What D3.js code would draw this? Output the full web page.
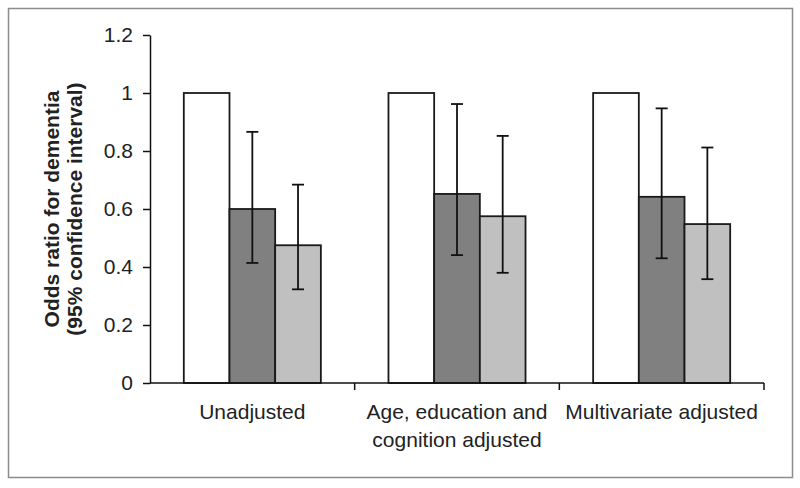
<!DOCTYPE html>
<html>
<head>
<meta charset="utf-8">
<script src="https://cdn.jsdelivr.net/npm/d3@7"></script>
<style>
  body { margin: 0; background: #fff; }
  svg { display: block; font-family: "Liberation Sans", Arial, sans-serif; }
</style>
</head>
<body>
<div class="canvas"></div>
<script>
// categories (x axis), each label may wrap on two lines
const categories = ['Unadjusted', 'Age, education and cognition adjusted', 'Multivariate adjusted'];
const categoryLines = [['Unadjusted'], ['Age, education and', 'cognition adjusted'], ['Multivariate adjusted']];
const series = ['reference', 'group2', 'group3'];

// odds ratios per category, one array per series
const reference = [1, 1, 1];
const group2 = [0.60, 0.652, 0.642];
const group3 = [0.475, 0.575, 0.548];

// 95% confidence limits (reference bar has none)
const group2Low = [0.414, 0.441, 0.43];
const group2High = [0.866, 0.962, 0.947];
const group3Low = [0.323, 0.38, 0.358];
const group3High = [0.684, 0.852, 0.812];

const yTicks = [0, 0.2, 0.4, 0.6, 0.8, 1, 1.2];

const width = 800, height = 488;
const margin = { top: 35, left: 150, right: 36, bottom: 105 };

const svg = d3.select('.canvas')
    .append('svg')
    .attr('width', width)
    .attr('height', height);

// chart area border
svg.append('rect')
    .attr('x', 8.5).attr('y', 8.5)
    .attr('width', 784).attr('height', 469)
    .attr('fill', 'none')
    .attr('stroke', '#8c8c8c')
    .attr('stroke-width', 1.5);

const x0 = d3.scaleBand()
    .domain(categories)
    .range([margin.left, width - margin.right]);

const x1 = d3.scaleBand()
    .domain(series)
    .range([0, x0.bandwidth()])
    .paddingOuter(0.74)
    .paddingInner(0);

const y = d3.scaleLinear()
    .domain([0, 1.2])
    .range([height - margin.bottom, margin.top]);

// build rows from the arrays
const rows = categories.map((c, i) => ({
    cat: c,
    bars: [
        { key: 'reference', value: reference[i] },
        { key: 'group2', value: group2[i], lo: group2Low[i], hi: group2High[i] },
        { key: 'group3', value: group3[i], lo: group3Low[i], hi: group3High[i] }
    ]
}));

const fill = d3.scaleOrdinal()
    .domain(series)
    .range(['#ffffff', '#808080', '#c0c0c0']);

const groups = svg.selectAll('g.cat')
    .data(rows)
    .enter()
    .append('g')
    .attr('class', 'cat')
    .attr('transform', d => `translate(${x0(d.cat)}, 0)`);

groups.selectAll('rect')
    .data(d => d.bars)
    .enter()
    .append('rect')
    .attr('x', d => x1(d.key))
    .attr('y', d => y(d.value))
    .attr('width', x1.bandwidth())
    .attr('height', d => y(0) - y(d.value))
    .attr('fill', d => fill(d.key))
    .attr('stroke', '#1a1a1a')
    .attr('stroke-width', 1.8);

// error bars
const err = groups.selectAll('g.err')
    .data(d => d.bars.filter(b => b.lo !== undefined))
    .enter()
    .append('g')
    .attr('class', 'err')
    .attr('stroke', '#111')
    .attr('stroke-width', 1.8);

const cx = d => x1(d.key) + x1.bandwidth() / 2;
err.append('line')
    .attr('x1', cx).attr('x2', cx)
    .attr('y1', d => y(d.lo)).attr('y2', d => y(d.hi));
err.append('line')
    .attr('x1', d => cx(d) - 6).attr('x2', d => cx(d) + 6)
    .attr('y1', d => y(d.hi)).attr('y2', d => y(d.hi));
err.append('line')
    .attr('x1', d => cx(d) - 6).attr('x2', d => cx(d) + 6)
    .attr('y1', d => y(d.lo)).attr('y2', d => y(d.lo));

// y axis
const yAxis = svg.append('g')
    .attr('transform', `translate(${margin.left}, 0)`)
    .call(d3.axisLeft(y).tickValues(yTicks).tickSize(7).tickSizeOuter(0).tickFormat(d3.format('')));
yAxis.select('.domain').attr('stroke', '#111').attr('stroke-width', 1.5);
yAxis.selectAll('.tick line').attr('stroke', '#111').attr('stroke-width', 1.5);
yAxis.selectAll('.tick text')
    .attr('x', -17)
    .attr('fill', '#222')
    .style('font-size', '21px');

// x axis line and category dividers
svg.append('line')
    .attr('x1', margin.left).attr('x2', width - margin.right)
    .attr('y1', y(0)).attr('y2', y(0))
    .attr('stroke', '#111').attr('stroke-width', 1.5);

const dividers = categories.map(c => x0(c)).concat([x0(categories[categories.length - 1]) + x0.bandwidth()]);
svg.selectAll('line.div')
    .data(dividers.slice(1))
    .enter()
    .append('line')
    .attr('class', 'div')
    .attr('x1', d => d).attr('x2', d => d)
    .attr('y1', y(0)).attr('y2', y(0) + 7)
    .attr('stroke', '#111').attr('stroke-width', 1.5);

// category labels
svg.selectAll('text.cat')
    .data(categories)
    .enter()
    .append('text')
    .attr('class', 'cat')
    .attr('text-anchor', 'middle')
    .attr('fill', '#222')
    .style('font-size', '21px')
    .each(function (d, i) {
        const t = d3.select(this);
        categoryLines[i].forEach((line, j) => {
            t.append('tspan')
                .attr('x', x0(d) + x0.bandwidth() / 2)
                .attr('y', 419 + j * 28)
                .text(line);
        });
    });

// y axis title
const title = svg.append('text')
    .attr('transform', `translate(0, ${(y(0) + y(1.2)) / 2}) rotate(-90)`)
    .attr('text-anchor', 'middle')
    .attr('fill', '#222')
    .style('font-size', '21px')
    .style('font-weight', 'bold');
title.append('tspan').attr('x', 0).attr('y', 59).text('Odds ratio for dementia');
title.append('tspan').attr('x', 0).attr('y', 82).text('(95%  confidence interval)');
</script>
</body>
</html>
